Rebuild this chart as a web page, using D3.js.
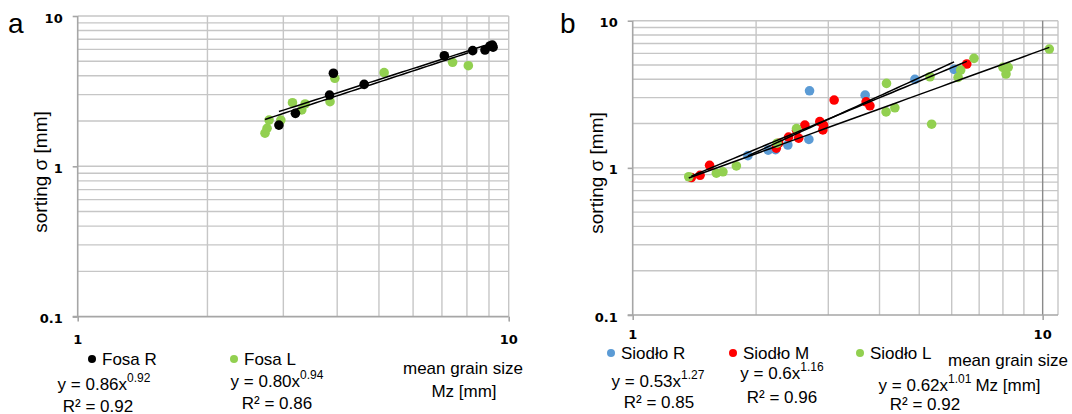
<!DOCTYPE html>
<html>
<head>
<meta charset="utf-8">
<script src="https://cdn.jsdelivr.net/npm/d3@7"></script>
<style>
  html, body { margin: 0; padding: 0; background: #fff; }
  svg { display: block; }
  text { font-family: "Liberation Sans", Arial, sans-serif; fill: #000; }
  .tick-label { font-family: "DejaVu Sans", Verdana, sans-serif; font-weight: bold; font-size: 13px; }
</style>
</head>
<body>
<svg id="chart" width="1072" height="414"></svg>
<script>
// ---- Panel a: Fosa (mean grain size Mz vs sorting σ, both in mm) ----
const fosaR_x = [2.93, 3.20, 3.84, 3.92, 4.62, 7.09, 8.25, 8.81, 9.05, 9.16, 9.20];
const fosaR_y = [1.88, 2.25, 2.98, 4.16, 3.51, 5.44, 5.88, 5.94, 6.32, 6.41, 6.20];
const fosaL_x = [2.72, 2.75, 2.78, 2.96, 3.15, 3.31, 3.37, 3.85, 3.95, 5.14, 7.41, 8.06];
const fosaL_y = [1.66, 1.79, 2.03, 2.03, 2.65, 2.37, 2.60, 2.69, 3.85, 4.20, 4.92, 4.67];

// ---- Panel b: Siodło ----
const siodloR_x = [1.91, 2.14, 2.23, 2.39, 2.69, 2.70, 3.69, 4.88, 6.08];
const siodloR_y = [1.21, 1.32, 1.33, 1.43, 1.56, 3.34, 3.12, 3.99, 4.67];
const siodloM_x = [1.39, 1.46, 1.54, 2.24, 2.27, 2.40, 2.51, 2.54, 2.63, 2.86, 2.91, 2.92, 3.10, 3.71, 3.79, 6.53];
const siodloM_y = [0.86, 0.89, 1.04, 1.36, 1.47, 1.62, 1.80, 1.59, 1.95, 2.06, 1.81, 1.95, 2.89, 2.81, 2.64, 5.08];
const siodloL_x = [1.37, 1.60, 1.66, 1.79, 2.25, 2.51, 4.15, 4.16, 4.36, 5.31, 5.36, 6.22, 6.31, 6.80, 8.00, 8.14, 8.24, 10.38];
const siodloL_y = [0.87, 0.92, 0.94, 1.03, 1.47, 1.85, 2.40, 3.75, 2.56, 4.16, 1.98, 4.12, 4.62, 5.55, 4.82, 4.34, 4.82, 6.42];

// Power-law fits y = a·x^b
const fitA = [0.86, 0.80];
const fitB = [0.92, 0.94];
const fitBa = [0.53, 0.60, 0.62];
const fitBb = [1.27, 1.16, 1.01];

// Axis tick labels
const yTickValues = [0.1, 1, 10];
const yTickLabels = ["0.1", "1", "10"];
const xTickValues = [1, 10];
const xTickLabels = ["1", "10"];

const GREEN = "#92d050", BLACK = "#000000", BLUE = "#5b9bd5", RED = "#ff0000";
const GRID = "#c6c6c6", AXIS = "#a6a6a6";

const svg = d3.select("#chart");

function gridValues(lo, hi) {
  const out = [];
  for (let e = -1; e <= 1; e++) {
    for (let m = 1; m <= 9; m++) {
      const v = m * Math.pow(10, e);
      if (v >= lo - 1e-9 && v <= hi + 1e-9) out.push(v);
    }
  }
  return out;
}

function drawPanel(opt) {
  const g = svg.append("g");
  const x = d3.scaleLog().domain(opt.xDomain).range(opt.xRange);
  const y = d3.scaleLog().domain([0.1, 10]).range(opt.yRange);
  const [x0, x1] = opt.xRange;
  const [y0, y1] = opt.yRange; // y0 = bottom, y1 = top

  // horizontal gridlines
  g.append("g").selectAll("line").data(gridValues(0.1, 10).filter(v => v > 0.1))
    .join("line")
    .attr("x1", x0).attr("x2", x1)
    .attr("y1", d => y(d)).attr("y2", d => y(d))
    .attr("stroke", GRID).attr("stroke-width", 1.4);

  // vertical gridlines
  const xg = gridValues(1, opt.xDomain[1]).filter(v => v > 1);
  g.append("g").selectAll("line").data(xg)
    .join("line")
    .attr("x1", d => x(d)).attr("x2", d => x(d))
    .attr("y1", y0).attr("y2", y1)
    .attr("stroke", d => (opt.darkTen && Math.abs(d - 10) < 1e-9) ? "#8a8a8a" : GRID)
    .attr("stroke-width", 1.4);

  // right frame when the range extends past the last decade
  if (opt.xDomain[1] > 10) {
    g.append("line").attr("x1", x1).attr("x2", x1).attr("y1", y0).attr("y2", y1)
      .attr("stroke", GRID).attr("stroke-width", 1.4);
  }

  // axes (d3 axes restyled)
  const yAxis = d3.axisLeft(y).tickValues(yTickValues).tickSize(5).tickFormat("");
  const ya = g.append("g").attr("transform", `translate(${x0},0)`).call(yAxis);
  const xAxis = d3.axisBottom(x).tickValues(xTickValues).tickSize(5).tickFormat("");
  const xa = g.append("g").attr("transform", `translate(0,${y0})`).call(xAxis);
  [ya, xa].forEach(a => {
    a.select(".domain").attr("stroke", AXIS).attr("stroke-width", 1.6);
    a.selectAll(".tick line").attr("stroke", AXIS).attr("stroke-width", 1.6);
  });
  xa.select(".domain").attr("d", `M${x0 - 5},0H${x1}`);
  ya.select(".domain").attr("d", `M0,${y0}V${y1}`);

  // tick labels
  g.append("g").selectAll("text").data(yTickValues).join("text")
    .attr("class", "tick-label")
    .attr("x", x0 - 15).attr("y", d => y(d) + opt.yLabelDy)
    .attr("text-anchor", "end").attr("dominant-baseline", "central")
    .text((d, i) => yTickLabels[i]);
  g.append("g").selectAll("text").data(xTickValues).join("text")
    .attr("class", "tick-label")
    .attr("x", d => x(d)).attr("y", y0 + opt.xLabelDy)
    .attr("text-anchor", "middle").attr("dominant-baseline", "central")
    .text((d, i) => xTickLabels[i]);

  // y-axis title
  g.append("text")
    .attr("transform", `translate(${opt.titleX},${opt.titleY}) rotate(-90)`)
    .attr("text-anchor", "middle").attr("dominant-baseline", "central")
    .style("font-size", "19px")
    .text("sorting σ [mm]");

  // panel letter
  g.append("text").attr("x", opt.letterX).attr("y", 33)
    .style("font-size", "28px").text(opt.letter);

  // fitted power-law curves over each series' own x range
  const line = d3.line().x(d => x(d[0])).y(d => y(d[1]));
  opt.series.forEach(s => {
    const lo = d3.min(s.x), hi = d3.max(s.x);
    s.linePts = d3.range(0, 41).map(i => {
      const xv = lo * Math.pow(hi / lo, i / 40);
      return [xv, s.a * Math.pow(xv, s.b)];
    });
  });

  // points first, then the fitted lines on top
  opt.series.forEach(s => {
    g.append("g").selectAll("circle").data(d3.zip(s.x, s.y)).join("circle")
      .attr("cx", d => x(d[0])).attr("cy", d => y(d[1])).attr("r", 4.8)
      .attr("fill", s.color);
  });
  opt.series.forEach(s => {
    g.append("path").attr("d", line(s.linePts))
      .attr("fill", "none").attr("stroke", "#000").attr("stroke-width", 1.5);
  });

  return g;
}

drawPanel({
  letter: "a", letterX: 8,
  xDomain: [1, 10], xRange: [77.7, 508.7], yRange: [316.6, 16],
  yLabelDy: 2, xLabelDy: 23, titleX: 40, titleY: 172,
  series: [
    { x: fosaL_x, y: fosaL_y, color: GREEN, a: fitA[1], b: fitB[1] },
    { x: fosaR_x, y: fosaR_y, color: BLACK, a: fitA[0], b: fitB[0] }
  ]
});

drawPanel({
  letter: "b", letterX: 560,
  xDomain: [1, 10.9], xRange: [632.7, 1058], yRange: [315, 20.7],
  yLabelDy: 2, xLabelDy: 19, titleX: 596, titleY: 173, darkTen: true,
  series: [
    { x: siodloR_x, y: siodloR_y, color: BLUE, a: fitBa[0], b: fitBb[0] },
    { x: siodloM_x, y: siodloM_y, color: RED, a: fitBa[1], b: fitBb[1] },
    { x: siodloL_x, y: siodloL_y, color: GREEN, a: fitBa[2], b: fitBb[2] }
  ]
});

// ---- legends and equations ----
const LEG_FS = "17px";
function bullet(cx, cy, color, label) {
  svg.append("circle").attr("cx", cx).attr("cy", cy).attr("r", 4).attr("fill", color);
  svg.append("text").attr("x", cx + 10).attr("y", cy).attr("dominant-baseline", "central")
    .style("font-size", LEG_FS).text(label);
}
function equation(cx, cy, a, b, anchor) {
  const t = svg.append("text").attr("x", cx).attr("y", cy)
    .attr("text-anchor", anchor || "middle").attr("dominant-baseline", "central")
    .style("font-size", LEG_FS);
  t.append("tspan").text(`y = ${a}x`);
  t.append("tspan").attr("dy", -6).style("font-size", "12px").text(b);
  return t;
}
function r2(cx, cy, v) {
  svg.append("text").attr("x", cx).attr("y", cy)
    .attr("text-anchor", "middle").attr("dominant-baseline", "central")
    .style("font-size", LEG_FS).text("R² = " + v);
}
function plain(cx, cy, s) {
  svg.append("text").attr("x", cx).attr("y", cy)
    .attr("text-anchor", "middle").attr("dominant-baseline", "central")
    .style("font-size", LEG_FS).text(s);
}

// panel a
bullet(92, 359, BLACK, "Fosa R");
bullet(234, 359, GREEN, "Fosa L");
equation(104, 384, "0.86", "0.92");
r2(98, 406, "0.92");
equation(277, 381, "0.80", "0.94");
r2(277, 403, "0.86");
plain(463, 368, "mean grain size");
plain(464, 391, "Mz [mm]");

// panel b
bullet(611, 353, BLUE, "Siodło R");
bullet(733, 353, RED, "Siodło M");
bullet(860, 353, GREEN, "Siodło L");
equation(658, 381, "0.53", "1.27");
r2(659, 402, "0.85");
equation(782, 373, "0.6", "1.16");
r2(782, 397, "0.96");
equation(925, 385, "0.62", "1.01");
r2(925, 404, "0.92");
plain(1008, 360, "mean grain size");
plain(1008, 385, "Mz [mm]");
</script>
</body>
</html>
